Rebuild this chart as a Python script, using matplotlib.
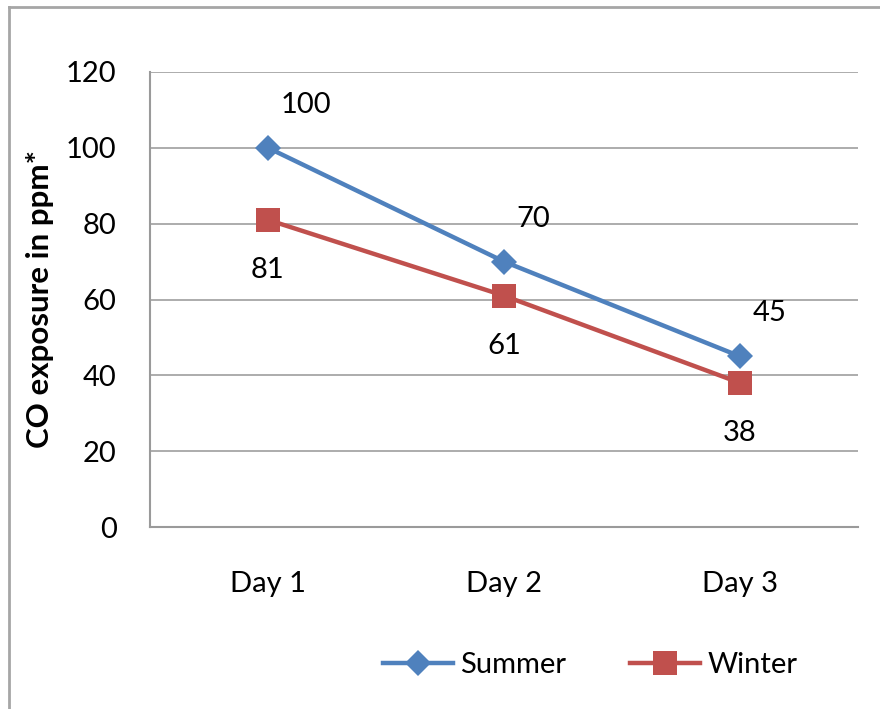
import matplotlib
matplotlib.use("Agg")
import matplotlib.pyplot as plt
from matplotlib.lines import Line2D

plt.rcParams['font.family'] = ['Lato', 'DejaVu Sans']

categories = ["Day 1", "Day 2", "Day 3"]
summer = [100, 70, 45]
winter = [81, 61, 38]
y_ticks = [0, 20, 40, 60, 80, 100, 120]

blue = "#4F81BD"
red = "#C0504D"
grid_c = "#A6A6A6"
fs = 21

fig = plt.figure(figsize=(8.8, 7.09), dpi=100)
ax = fig.add_axes([150/880, 1-527/709, (858-150)/880, (527-72)/709])

x = list(range(len(categories)))
ax.plot(x, summer, color=blue, lw=3.2, marker='D', ms=13, mec=blue, mew=0, label="Summer", zorder=3)
ax.plot(x, winter, color=red, lw=3.2, marker='s', ms=17, mec=red, mew=0, label="Winter", zorder=3)

for xi, v in zip(x, summer):
    ax.annotate(str(v), (xi, v), xytext=(9, 31), textcoords='offset points',
                ha='left', va='center', fontsize=fs)
for xi, v in zip(x, winter):
    ax.annotate(str(v), (xi, v), xytext=(0, -36), textcoords='offset points',
                ha='center', va='center', fontsize=fs)

ax.set_xlim(-0.5, 2.5)
ax.set_ylim(0, 120)
ax.set_yticks(y_ticks)
ax.set_xticks(x)
ax.set_xticklabels(categories)
ax.tick_params(axis='both', length=0, labelsize=fs)
ax.tick_params(axis='y', pad=24)
ax.tick_params(axis='x', pad=32)
ax.yaxis.grid(True, color=grid_c, lw=1.3)
ax.set_axisbelow(True)
for s in ['top', 'right']:
    ax.spines[s].set_visible(False)
for s in ['left', 'bottom']:
    ax.spines[s].set_color("#9A9A9A")
    ax.spines[s].set_linewidth(1.5)

ax.set_ylabel("CO exposure in ppm*", fontsize=22.5, fontweight='bold')
ax.yaxis.set_label_coords(-(150-54)/708, 0.5)

fig.legend(loc='center', bbox_to_anchor=(590/880, 1-665/709), ncol=2, frameon=False,
           fontsize=fs, handlelength=2.4, handletextpad=0.25, columnspacing=2.2)

# chart border (top and left visible)
fig.add_artist(Line2D([9/880, 1.0], [1-7/709, 1-7/709], transform=fig.transFigure, color="#A6A6A6", lw=2))
fig.add_artist(Line2D([9/880, 9/880], [0, 1-7/709], transform=fig.transFigure, color="#A6A6A6", lw=2))

fig.savefig("out.png", dpi=100)
